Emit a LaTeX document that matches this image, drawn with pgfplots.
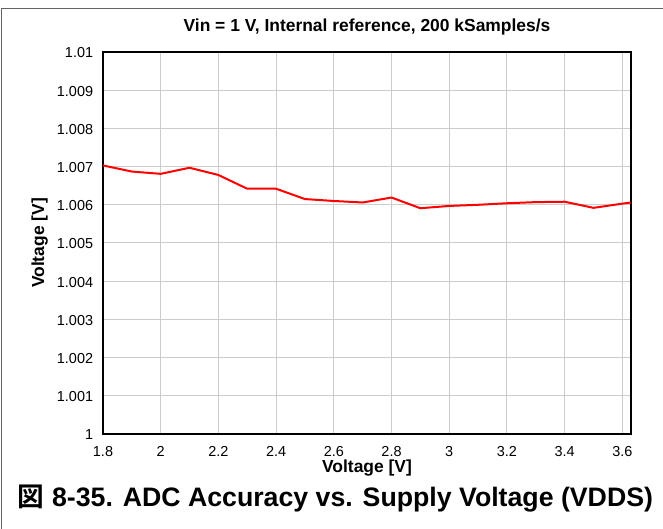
\documentclass[border=0pt]{standalone}
\usepackage{pgfplots}
\pgfplotsset{compat=1.18}
\usepackage{fontspec}
\setmainfont{Liberation Sans}
\newfontfamily\cjk{Noto Sans CJK JP}[BoldFont={* Bold}]
\definecolor{gridgray}{RGB}{204,204,204}
\definecolor{framegray}{RGB}{100,100,100}
\begin{document}
\begin{tikzpicture}[x=1bp,y=1bp]
\path[use as bounding box] (0,0) rectangle (663,529);
\draw[framegray,line width=1bp] (1.5,0) -- (1.5,520.5) -- (663,520.5);
\begin{axis}[
  at={(103bp,95bp)}, anchor=south west,
  width=528bp, height=382bp, scale only axis,
  xmin=1.8, xmax=3.63, ymin=1, ymax=1.01,
  xtick={1.8,2,2.2,2.4,2.6,2.8,3,3.2,3.4,3.6},
  xticklabels={1.8,2,2.2,2.4,2.6,2.8,3,3.2,3.4,3.6},
  ytick={1,1.001,1.002,1.003,1.004,1.005,1.006,1.007,1.008,1.009,1.01},
  yticklabels={1,1.001,1.002,1.003,1.004,1.005,1.006,1.007,1.008,1.009,1.01},
  major tick length=0pt,
  grid=major,
  major grid style={gridgray, line width=1bp},
  axis line style={black, line width=1.8bp},
  tick label style={font=\fontsize{14.5}{16}\selectfont, inner sep=0pt},
  xticklabel style={anchor=base, yshift=-22.7bp},
  yticklabel style={anchor=east, xshift=-9.7bp, yshift=-1bp},
  xlabel={\bfseries Voltage [V]},
  ylabel={\bfseries Voltage [V]},
  label style={font=\fontsize{17.5}{19}\selectfont, inner sep=0pt},
  xlabel style={anchor=base, at={(axis description cs:0.5,-0.1021)}},
  ylabel style={anchor=base, rotate=0, at={(axis description cs:-0.1117,0.5)}},
  title={\bfseries Vin = 1 V, Internal reference, 200 kSamples/s},
  title style={font=\fontsize{17.5}{19}\selectfont, inner sep=0pt, anchor=base, yshift=-6pt, at={(axis description cs:0.5,1.0534)}},
  clip=true,
]
\addplot[red, line width=2bp] coordinates {
(1.8,1.00703) (1.9,1.00687) (2.0,1.00681) (2.1,1.00697) (2.2,1.00678)
(2.3,1.00642) (2.4,1.00642) (2.5,1.00615) (2.6,1.00610) (2.7,1.00606)
(2.8,1.00619) (2.9,1.00591) (3.0,1.00597) (3.1,1.00600) (3.2,1.00604)
(3.3,1.00607) (3.4,1.00608) (3.5,1.00592) (3.6,1.00603) (3.63,1.00606)
};
\end{axis}
\node[anchor=base, inner sep=0pt, font=\fontsize{26.8}{28}\selectfont\bfseries] at (335.5,22) {{\cjk\bfseries 図} 8-35. ADC Accuracy vs. Supply Voltage (VDDS)};
\end{tikzpicture}
\end{document}
